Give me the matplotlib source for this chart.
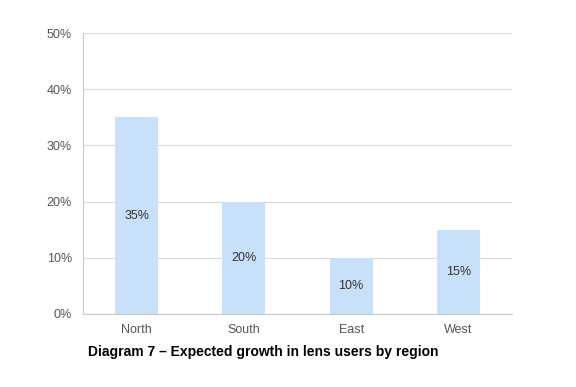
import matplotlib
matplotlib.use("Agg")
import matplotlib.pyplot as plt
from matplotlib.ticker import PercentFormatter

plt.rcParams['font.family'] = ['Liberation Sans', 'DejaVu Sans']

# datos del gráfico
regions = ["North", "South", "East", "West"]
growth = [35, 20, 10, 15]
yticks = [0, 10, 20, 30, 40, 50]

fig = plt.figure(figsize=(5.76, 3.87), dpi=100)
ax = fig.add_axes([83/576, 1 - 314/387, 429/576, 281/387])

x = range(len(regions))
bars = ax.bar(x, growth, width=0.4, color="#c9e0fa", zorder=2)

# etiquetas dentro de cada barra
for b, v in zip(bars, growth):
    ax.text(b.get_x() + b.get_width() / 2, v / 2, f"{v}%",
            ha="center", va="center", fontsize=9, color="#333333", zorder=3)

ax.set_xlim(-0.5, len(regions) - 0.5)
ax.set_ylim(0, 50)
ax.set_yticks(yticks)
ax.yaxis.set_major_formatter(PercentFormatter(decimals=0))
ax.set_xticks(list(x))
ax.set_xticklabels(regions)
ax.tick_params(length=0, labelsize=9, labelcolor="#555555")
ax.tick_params(axis="x", pad=7)
ax.tick_params(axis="y", pad=8)

ax.grid(axis="y", color="#d9d9d9", linewidth=0.8, zorder=0)
for s in ["top", "right"]:
    ax.spines[s].set_visible(False)
ax.spines["left"].set_color("#c8c8c8")
ax.spines["bottom"].set_color("#c8c8c8")

fig.text(88/576, 1 - 352/387, "Diagram 7 \u2013 Expected growth in lens users by region",
         ha="left", va="center", fontsize=10, fontweight="bold", color="black")

fig.savefig("out.png", dpi=100)
